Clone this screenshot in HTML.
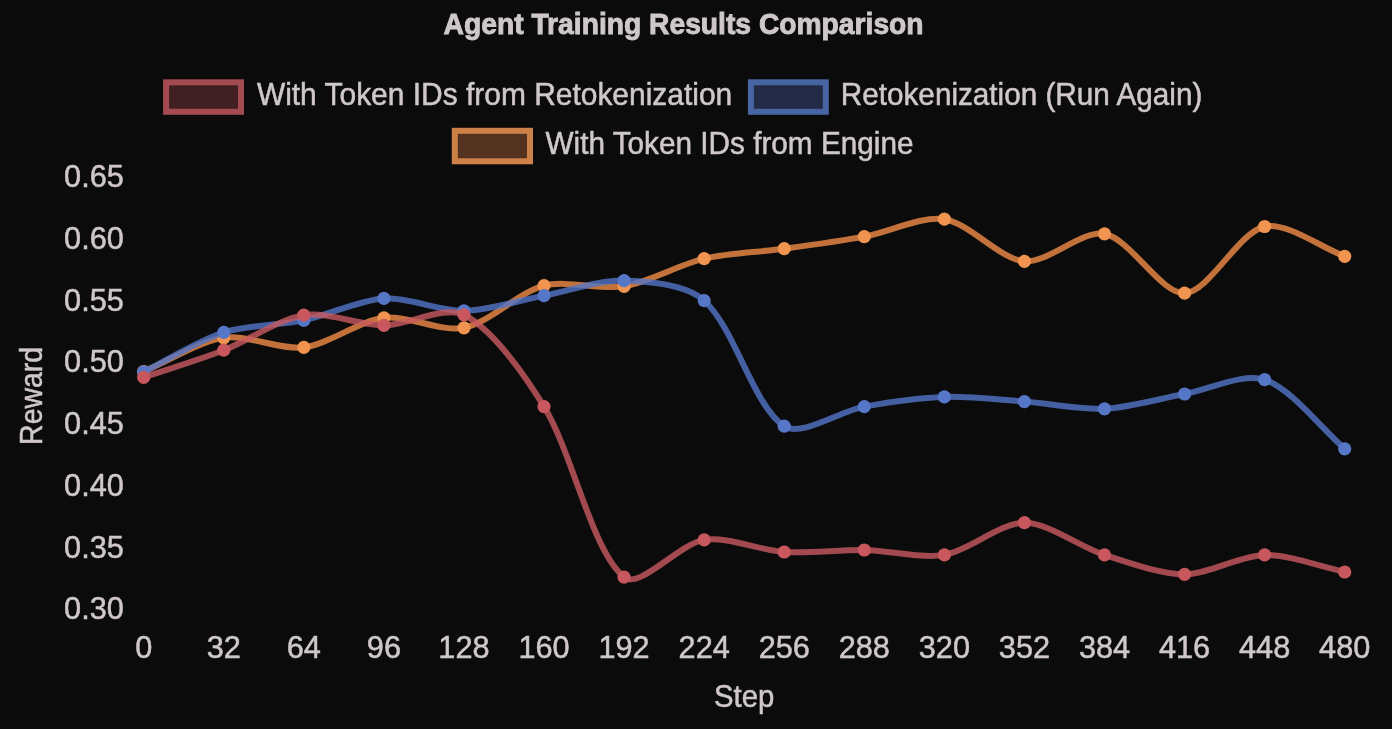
<!DOCTYPE html>
<html><head><meta charset="utf-8"><style>
html,body{margin:0;padding:0;background:#0b0b0b;}
svg{display:block;will-change:transform;}
text{font-family:"Liberation Sans",sans-serif;fill:#cfc8c9;stroke:#cfc8c9;stroke-width:0.5px;}
</style></head><body>
<svg width="1392" height="729" viewBox="0 0 1392 729">
<rect width="1392" height="729" fill="#0b0b0b"/>
<g stroke="#0d0d0d" stroke-width="2"><line x1="129" y1="179" x2="1346" y2="179"/><line x1="129" y1="241" x2="1346" y2="241"/><line x1="129" y1="303" x2="1346" y2="303"/><line x1="129" y1="365" x2="1346" y2="365"/><line x1="129" y1="426" x2="1346" y2="426"/><line x1="129" y1="488" x2="1346" y2="488"/><line x1="129" y1="550" x2="1346" y2="550"/><line x1="129" y1="612" x2="1346" y2="612"/><line x1="144" y1="178" x2="144" y2="627"/><line x1="224" y1="178" x2="224" y2="627"/><line x1="304" y1="178" x2="304" y2="627"/><line x1="384" y1="178" x2="384" y2="627"/><line x1="464" y1="178" x2="464" y2="627"/><line x1="544" y1="178" x2="544" y2="627"/><line x1="624" y1="178" x2="624" y2="627"/><line x1="704" y1="178" x2="704" y2="627"/><line x1="784" y1="178" x2="784" y2="627"/><line x1="864" y1="178" x2="864" y2="627"/><line x1="944" y1="178" x2="944" y2="627"/><line x1="1024" y1="178" x2="1024" y2="627"/><line x1="1105" y1="178" x2="1105" y2="627"/><line x1="1185" y1="178" x2="1185" y2="627"/><line x1="1265" y1="178" x2="1265" y2="627"/><line x1="1345" y1="178" x2="1345" y2="627"/></g>
<text x="683.6" y="33.9" text-anchor="middle" font-weight="bold" font-size="29.6" textLength="480" style="stroke-width:0.9px" lengthAdjust="spacingAndGlyphs">Agent Training Results Comparison</text>
<rect x="166.1" y="82.3" width="74.9" height="29.5" fill="#412023" stroke="#a44a51" stroke-width="6"/>
<text x="256.9" y="105.2" font-size="30.7" textLength="475.3" lengthAdjust="spacingAndGlyphs">With Token IDs from Retokenization</text>
<rect x="750.9" y="82.3" width="74.9" height="29.5" fill="#232a45" stroke="#4865a3" stroke-width="6"/>
<text x="840.8" y="105.2" font-size="30.7" textLength="361.5" lengthAdjust="spacingAndGlyphs">Retokenization (Run Again)</text>
<rect x="454.8" y="130.8" width="75.2" height="30.5" fill="#53321f" stroke="#ce8049" stroke-width="6"/>
<text x="545.5" y="154.0" font-size="30.7" textLength="368" lengthAdjust="spacingAndGlyphs">With Token IDs from Engine</text>
<g font-size="30.7"><text x="123.8" y="187.20" text-anchor="end">0.65</text><text x="123.8" y="248.93" text-anchor="end">0.60</text><text x="123.8" y="310.66" text-anchor="end">0.55</text><text x="123.8" y="372.39" text-anchor="end">0.50</text><text x="123.8" y="434.11" text-anchor="end">0.45</text><text x="123.8" y="495.84" text-anchor="end">0.40</text><text x="123.8" y="557.57" text-anchor="end">0.35</text><text x="123.8" y="619.30" text-anchor="end">0.30</text><text x="143.70" y="658.4" text-anchor="middle">0</text><text x="223.77" y="658.4" text-anchor="middle">32</text><text x="303.83" y="658.4" text-anchor="middle">64</text><text x="383.90" y="658.4" text-anchor="middle">96</text><text x="463.97" y="658.4" text-anchor="middle">128</text><text x="544.03" y="658.4" text-anchor="middle">160</text><text x="624.10" y="658.4" text-anchor="middle">192</text><text x="704.17" y="658.4" text-anchor="middle">224</text><text x="784.23" y="658.4" text-anchor="middle">256</text><text x="864.30" y="658.4" text-anchor="middle">288</text><text x="944.37" y="658.4" text-anchor="middle">320</text><text x="1024.43" y="658.4" text-anchor="middle">352</text><text x="1104.50" y="658.4" text-anchor="middle">384</text><text x="1184.57" y="658.4" text-anchor="middle">416</text><text x="1264.63" y="658.4" text-anchor="middle">448</text><text x="1344.70" y="658.4" text-anchor="middle">480</text></g>
<text x="744.1" y="706.9" text-anchor="middle" font-size="30.7" textLength="60.3" lengthAdjust="spacingAndGlyphs">Step</text>
<text transform="translate(42.1,395.9) rotate(-90)" x="0" y="0" text-anchor="middle" font-size="30.7" textLength="98" lengthAdjust="spacingAndGlyphs">Reward</text>
<path d="M143.70,371.50 C167.72,361.39 198.85,341.55 223.77,337.80 C246.89,334.32 280.50,350.31 303.83,347.40 C328.54,344.31 359.20,320.82 383.90,317.80 C407.24,314.94 441.32,332.34 463.97,327.80 C489.36,322.71 518.55,292.30 544.03,285.70 C566.59,279.85 600.76,290.25 624.10,286.30 C648.80,282.12 679.56,264.38 704.17,258.60 C727.60,253.10 760.26,251.99 784.23,248.70 C808.30,245.39 840.42,241.00 864.30,236.60 C888.46,232.15 921.53,215.68 944.37,219.20 C969.57,223.09 999.62,259.04 1024.43,261.30 C1047.66,263.42 1082.44,229.41 1104.50,233.80 C1130.48,238.98 1161.08,294.27 1184.57,293.20 C1209.12,292.08 1238.24,232.58 1264.63,226.50 C1286.28,221.51 1320.68,247.36 1344.70,256.30" fill="none" stroke="rgba(240,140,70,0.80)" stroke-width="6" stroke-linejoin="round" stroke-linecap="butt"/>
<circle cx="143.70" cy="371.50" r="6.6" fill="#f0944f"/><circle cx="223.77" cy="337.80" r="6.6" fill="#f0944f"/><circle cx="303.83" cy="347.40" r="6.6" fill="#f0944f"/><circle cx="383.90" cy="317.80" r="6.6" fill="#f0944f"/><circle cx="463.97" cy="327.80" r="6.6" fill="#f0944f"/><circle cx="544.03" cy="285.70" r="6.6" fill="#f0944f"/><circle cx="624.10" cy="286.30" r="6.6" fill="#f0944f"/><circle cx="704.17" cy="258.60" r="6.6" fill="#f0944f"/><circle cx="784.23" cy="248.70" r="6.6" fill="#f0944f"/><circle cx="864.30" cy="236.60" r="6.6" fill="#f0944f"/><circle cx="944.37" cy="219.20" r="6.6" fill="#f0944f"/><circle cx="1024.43" cy="261.30" r="6.6" fill="#f0944f"/><circle cx="1104.50" cy="233.80" r="6.6" fill="#f0944f"/><circle cx="1184.57" cy="293.20" r="6.6" fill="#f0944f"/><circle cx="1264.63" cy="226.50" r="6.6" fill="#f0944f"/><circle cx="1344.70" cy="256.30" r="6.6" fill="#f0944f"/>

<path d="M143.70,371.90 C167.72,360.05 198.58,340.52 223.77,332.40 C246.62,325.04 280.11,325.34 303.83,320.30 C328.15,315.14 359.59,299.84 383.90,298.40 C407.63,296.99 440.02,311.22 463.97,310.80 C488.06,310.38 520.01,300.13 544.03,295.60 C568.05,291.07 600.24,279.85 624.10,280.60 C648.28,281.35 687.04,285.03 704.17,300.60 C735.08,328.71 753.31,405.73 784.23,426.20 C801.35,437.53 840.02,411.04 864.30,406.60 C888.06,402.25 920.28,397.65 944.37,396.90 C968.32,396.15 1000.44,399.82 1024.43,401.60 C1048.48,403.39 1080.63,409.93 1104.50,408.80 C1128.67,407.65 1160.53,398.37 1184.57,394.00 C1208.57,389.64 1243.75,372.55 1264.63,379.70 C1291.79,388.99 1320.68,428.07 1344.70,448.80" fill="none" stroke="rgba(82,117,200,0.80)" stroke-width="6" stroke-linejoin="round" stroke-linecap="butt"/>
<circle cx="143.70" cy="371.90" r="6.6" fill="#5677c8"/><circle cx="223.77" cy="332.40" r="6.6" fill="#5677c8"/><circle cx="303.83" cy="320.30" r="6.6" fill="#5677c8"/><circle cx="383.90" cy="298.40" r="6.6" fill="#5677c8"/><circle cx="463.97" cy="310.80" r="6.6" fill="#5677c8"/><circle cx="544.03" cy="295.60" r="6.6" fill="#5677c8"/><circle cx="624.10" cy="280.60" r="6.6" fill="#5677c8"/><circle cx="704.17" cy="300.60" r="6.6" fill="#5677c8"/><circle cx="784.23" cy="426.20" r="6.6" fill="#5677c8"/><circle cx="864.30" cy="406.60" r="6.6" fill="#5677c8"/><circle cx="944.37" cy="396.90" r="6.6" fill="#5677c8"/><circle cx="1024.43" cy="401.60" r="6.6" fill="#5677c8"/><circle cx="1104.50" cy="408.80" r="6.6" fill="#5677c8"/><circle cx="1184.57" cy="394.00" r="6.6" fill="#5677c8"/><circle cx="1264.63" cy="379.70" r="6.6" fill="#5677c8"/><circle cx="1344.70" cy="448.80" r="6.6" fill="#5677c8"/>

<path d="M143.70,377.40 C167.72,369.24 200.14,359.38 223.77,350.20 C248.18,340.72 278.86,319.08 303.83,315.20 C326.90,311.61 359.89,325.36 383.90,325.30 C407.93,325.24 444.82,305.08 463.97,314.80 C492.86,329.47 525.17,375.69 544.03,406.60 C573.21,454.41 591.39,549.97 624.10,577.20 C639.43,589.96 679.10,543.84 704.17,539.90 C727.14,536.28 760.08,550.48 784.23,552.00 C808.12,553.51 840.30,549.57 864.30,550.00 C888.34,550.44 921.22,558.85 944.37,554.90 C969.26,550.66 1000.41,522.70 1024.43,522.70 C1048.45,522.70 1079.92,546.98 1104.50,554.90 C1127.96,562.46 1160.55,574.30 1184.57,574.30 C1208.59,574.30 1240.54,555.25 1264.63,554.90 C1288.58,554.56 1320.68,566.87 1344.70,572.00" fill="none" stroke="rgba(200,90,96,0.80)" stroke-width="6" stroke-linejoin="round" stroke-linecap="butt"/>
<circle cx="143.70" cy="377.40" r="6.6" fill="#c8585e"/><circle cx="223.77" cy="350.20" r="6.6" fill="#c8585e"/><circle cx="303.83" cy="315.20" r="6.6" fill="#c8585e"/><circle cx="383.90" cy="325.30" r="6.6" fill="#c8585e"/><circle cx="463.97" cy="314.80" r="6.6" fill="#c8585e"/><circle cx="544.03" cy="406.60" r="6.6" fill="#c8585e"/><circle cx="624.10" cy="577.20" r="6.6" fill="#c8585e"/><circle cx="704.17" cy="539.90" r="6.6" fill="#c8585e"/><circle cx="784.23" cy="552.00" r="6.6" fill="#c8585e"/><circle cx="864.30" cy="550.00" r="6.6" fill="#c8585e"/><circle cx="944.37" cy="554.90" r="6.6" fill="#c8585e"/><circle cx="1024.43" cy="522.70" r="6.6" fill="#c8585e"/><circle cx="1104.50" cy="554.90" r="6.6" fill="#c8585e"/><circle cx="1184.57" cy="574.30" r="6.6" fill="#c8585e"/><circle cx="1264.63" cy="554.90" r="6.6" fill="#c8585e"/><circle cx="1344.70" cy="572.00" r="6.6" fill="#c8585e"/>

</svg>
</body></html>
